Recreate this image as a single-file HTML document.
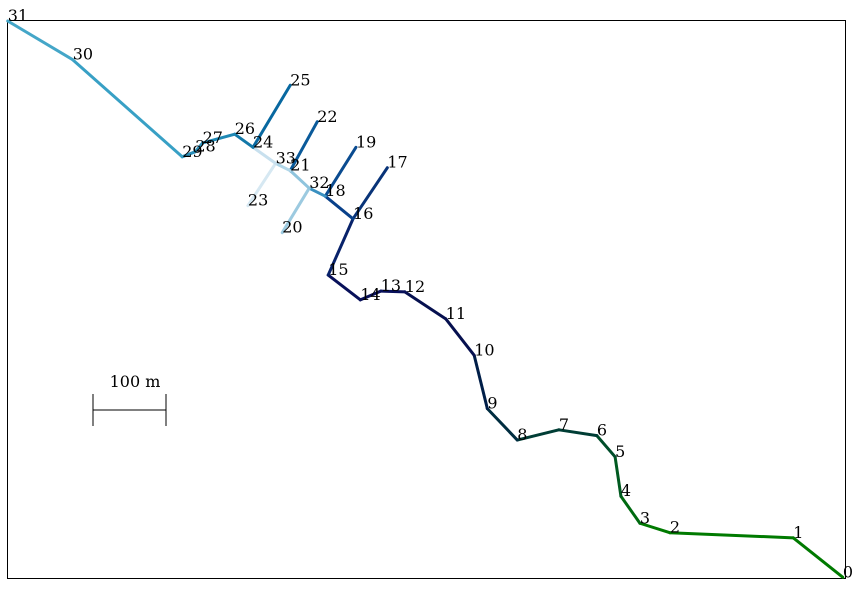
<!DOCTYPE html>
<html><head><meta charset="utf-8"><style>
html,body{margin:0;padding:0;background:#fff;}
svg text{font-family:"DejaVu Serif","Liberation Serif",serif;font-size:16px;fill:#000;}
</style></head><body>
<svg id="chart" width="866" height="589" xmlns="http://www.w3.org/2000/svg">
<rect x="7.5" y="20.5" width="838" height="558" fill="none" stroke="#000" stroke-width="1"/>
<g id="edges"></g>
<g id="labels"></g>
<g>
<line x1="93" y1="410" x2="166" y2="410" stroke="#000" stroke-width="1"/>
<line x1="93" y1="394" x2="93" y2="426" stroke="#000" stroke-width="1"/>
<line x1="166" y1="394" x2="166" y2="426" stroke="#000" stroke-width="1"/>
<text x="135" y="387" text-anchor="middle">100 m</text>
</g>
</svg>
<script>
const nodeX = [1145,1077,908,867,841,833,808,756,699,658,640,601,545,512,484,440,474,521,436,478,377,388,425,330,337,388,312,268,258,240,90,1,414,368];
const nodeY = [1,55,62,75,112,166,195,203,189,232,305,355,392,393,381,415,492,562,523,590,473,558,625,510,590,675,608,596,584,577,710,763,534,568];
const edgeFrom = [0,1,2,3,4,5,6,7,8,9,10,11,12,13,14,15,16,16,18,18,32,32,21,21,33,33,24,24,26,27,28,29,30];
const edgeTo   = [1,2,3,4,5,6,7,8,9,10,11,12,13,14,15,16,17,18,19,32,20,21,22,33,23,24,25,26,27,28,29,30,31];
const edgeColor = ["#007a00","#007a00","#007a00","#006a10","#005a20","#004d2a","#003d35","#003d35","#002d40","#001e48","#06104f","#06104f","#08105a","#08105a","#08105a","#08226a","#083378","#08408a","#0a4b90","#3a90c0","#9ccae0","#8fc4dd","#0a5a9a","#b0d6e8","#d6e8f2","#c8e0ee","#0868a0","#1378a8","#1e88b4","#2a90bb","#2a90bb","#38a0c5","#44a6c8"];
const xs = v => 7 + v*0.73;
const ys = v => 578 - v*0.73;
const NS="http://www.w3.org/2000/svg";
const eg=document.getElementById('edges');
edgeFrom.forEach((a,i)=>{
  const b=edgeTo[i];
  const l=document.createElementNS(NS,'line');
  l.setAttribute('x1',xs(nodeX[a]));l.setAttribute('y1',ys(nodeY[a]));
  l.setAttribute('x2',xs(nodeX[b]));l.setAttribute('y2',ys(nodeY[b]));
  l.setAttribute('stroke',edgeColor[i]);l.setAttribute('stroke-width','3');
  l.setAttribute('stroke-linecap','round');
  
  
  eg.appendChild(l);
});
const lg=document.getElementById('labels');
nodeX.forEach((x,i)=>{
  const t=document.createElementNS(NS,'text');
  t.setAttribute('x',xs(x));t.setAttribute('y',ys(nodeY[i]));
  t.textContent=String(i);
  
  
  lg.appendChild(t);
});
</script>
</body></html>
